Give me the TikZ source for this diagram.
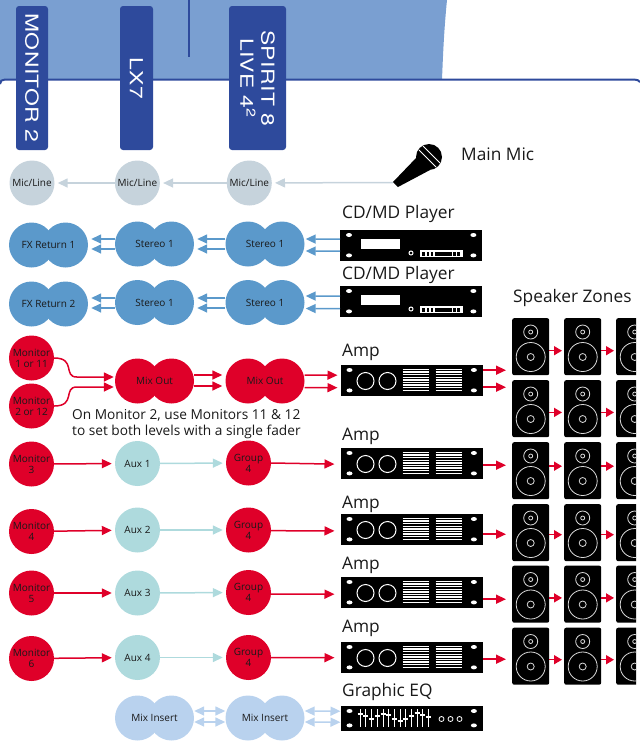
\documentclass[tikz,border=0pt]{standalone}
\usepackage{fontspec}
\setmainfont{Open Sans}
\newfontfamily\barfont[LetterSpace=2]{TeX Gyre Heros}
\usepackage{tikz}
\usetikzlibrary{arrows.meta,positioning}
\definecolor{deskblue}{RGB}{46,74,156}
\definecolor{bandblue}{RGB}{122,159,209}
\definecolor{micgrey}{RGB}{198,211,220}
\definecolor{stereoblue}{RGB}{91,153,203}
\definecolor{monred}{RGB}{223,0,41}
\definecolor{auxteal}{RGB}{174,218,221}
\definecolor{insertblue}{RGB}{185,210,238}

% one node with two overlapping lobes behind it
\newcommand{\twin}[4]{%
  \node[bub, fill=#3, xshift=-17pt] (#1l) at (#2) {};
  \node[bub, fill=#3, xshift=17pt]  (#1r) at (#2) {};
  \node[twinbox] (#1) at (#2) {#4};}
\newcommand{\holes}[1]{%
  \foreach \an/\sx/\sy in {north west/9/5, south west/9/-6, north east/-9/5, south east/-9/-6}
    \fill[white] ([shift={(\sx,\sy)}]#1.\an) ellipse (3 and 2);}
\newcommand{\cdunit}[2]{%
  \node[rack] (#1) at (#2) {};
  \holes{#1}
  \fill[white] ([shift={(21,9)}]#1.north west) rectangle ([shift={(60,19)}]#1.north west);
  \draw[white, line width=1pt] ([shift={(71,23)}]#1.north west) circle (2);
  \fill[white] ([shift={(80,20)}]#1.north west) rectangle ([shift={(123,27)}]#1.north west);
  \foreach \xa/\xb in {82/85, 86.5/89, 91/93, 95/112, 113/115.5, 117/120}
    \fill[black] ([shift={(\xa,21.5)}]#1.north west) rectangle ([shift={(\xb,25.5)}]#1.north west);}
\newcommand{\ampunit}[2]{%
  \node[rack] (#1) at (#2) {};
  \holes{#1}
  \foreach \cx in {25,47}
    \draw[white, line width=1pt] ([shift={(\cx,16)}]#1.north west) circle (8.5);
  \foreach \gx in {62,95} \foreach \gy in {4.5,7.1,...,27}
    \draw[white, line width=1.4pt] ([shift={(\gx,\gy)}]#1.north west) -- ([shift={(\gx+26,\gy)}]#1.north west);}
\newcommand{\speaker}[2]{%
  \node[spk] (#1) at (#2) {};
  \draw[cone] ([yshift=-14pt]#1.north) circle (7);
  \draw[cone] ([yshift=-14pt]#1.north) circle (2);
  \draw[cone] ([yshift=-39pt]#1.north) circle (14.5);
  \draw[cone] ([yshift=-39pt]#1.north) circle (3.5);}
\newcommand{\bartxt}[1]{\scalebox{1.27}[1]{\barfont #1}}

\begin{document}
\begin{tikzpicture}[
    x=1pt, y=-1pt,
    bub/.style     = {circle, minimum size=45pt, inner sep=0pt, align=center, text=black!90,
                      font=\fontsize{10}{11}\selectfont},
    twinbox/.style = {minimum width=79pt, minimum height=45pt, inner sep=0pt, align=center,
                      text=black!90, font=\fontsize{10}{11}\selectfont},
    bar/.style     = {fill=deskblue, rounded corners=3pt, rotate=-90, minimum width=144pt, inner sep=0pt,
                      text=white, align=center, font=\fontsize{18}{21}\selectfont},
    rack/.style    = {fill=black, minimum width=142pt, minimum height=31pt, inner sep=0pt, anchor=north west},
    spk/.style     = {fill=black, rounded corners=2pt, minimum width=37pt, minimum height=57pt,
                      inner sep=0pt, anchor=north west},
    cone/.style    = {white!85!black, line width=0.8pt},
    devlbl/.style  = {anchor=base west, inner sep=0pt, text=black!90, font=\fontsize{17.3}{19}\selectfont},
    arr/.style     = {-{Triangle[length=10pt,width=9pt]}, line width=1.5pt, shorten >=3pt},
    micarr/.style  = {arr, color=micgrey},
    bluearr/.style = {arr, color=stereoblue},
    redarr/.style  = {arr, color=monred},
    auxarr/.style  = {arr, color=auxteal},
    insarr/.style  = {{Triangle[length=10pt,width=9pt]}-{Triangle[length=10pt,width=9pt]},
                      line width=1.5pt, color=insertblue},
  ]
  \useasboundingbox (0,0) rectangle (640,756);

  % top band
  \fill[bandblue] (0,0) -- (447,0) .. controls (444,30) and (443,55) .. (442,79.5)
    -- (5,79.5) .. controls (2,79.5) and (0,81) .. (0,84) -- cycle;
  \draw[deskblue, line width=2pt] (0,84) .. controls (0,81) and (2,79.5) .. (5,79.5)
    -- (634,79.5) .. controls (637,79.5) and (639,80.5) .. (640,82);
  \draw[deskblue, line width=2pt] (189,0) -- (189,57);

  \node[bar, minimum height=32pt] (barmon) at (32,78)  {\bartxt{MONITOR 2}};
  \node[bar, minimum height=33pt] (barlx)  at (136.5,78) {\bartxt{LX7}};
  \node[bar, minimum height=57pt] (barsp)  at (257.5,78) {\bartxt{SPIRIT 8}\\\bartxt{LIVE 4\textsuperscript{2}}};

  % mic row
  \node[bub, fill=micgrey] (micl) at (32,183)  {Mic/Line};
  \node[bub, fill=micgrey, right=60pt of micl] (micm) {Mic/Line};
  \node[bub, fill=micgrey, right=66.5pt of micm] (micr) {Mic/Line};
  \coordinate (jack) at (393,182.5);
  \fill[black] (393,182) -- (398,187) -- (430,170) -- (417,157) -- cycle;
  \fill[black] (429,157) circle (13);
  \draw[white, line width=1pt] (419,150) -- (436,167);
  \draw[white, line width=1pt] (423,146) -- (440,163);
  \node[devlbl] (miclbl) at (461,160) {Main Mic};
  \draw[micarr] (jack) -- (micr);
  \draw[micarr] (micr) -- (micm);
  \draw[micarr] (micm) -- (micl);

  % speakers, third column runs off the page
  \begin{scope}
    \clip (0,0) rectangle (636,756);
    \foreach \rw/\ytop/\dy in {1/318/-4, 2/380/-3.7, 3/442/4.5, 4/504/-2, 5/565.5/-3.7, 6/627.5/-3.5} {
      \speaker{sp\rw a}{512,\ytop}
      \speaker{sp\rw b}{564,\ytop}
      \speaker{sp\rw c}{616,\ytop}
      \foreach \fr/\tt in {a/b, b/c}
        \draw[redarr, shorten >=2pt, -{Triangle[length=8pt,width=9pt]}]
          ([yshift=\dy pt]sp\rw\fr.east) -- ([yshift=\dy pt]sp\rw\tt.west);
    }
  \end{scope}
  \node[devlbl] (spklbl) at (513,302) {Speaker Zones};

  % devices
  \cdunit{cda}{340,230}
  \cdunit{cdb}{340,286}
  \ampunit{ampa}{340.5,365}
  \ampunit{ampb}{340.5,448}
  \ampunit{ampc}{340.5,514}
  \ampunit{ampd}{340.5,577}
  \ampunit{ampe}{340.5,642}
  \node[rack, minimum height=25pt] (eq) at (340.5,706) {};
  \holes{eq}
  \foreach \k [count=\i] in {8,10,13,10,8,9,13,15,13,10,7,9,11} {
    \draw[white, line width=1pt] ([shift={(14+5.7*\i,3)}]eq.north west) -- ([shift={(14+5.7*\i,21)}]eq.north west);
    \draw[white, line width=1.5pt] ([shift={(11.5+5.7*\i,\k)}]eq.north west) -- ([shift={(16.5+5.7*\i,\k)}]eq.north west);
  }
  \foreach \cx in {101,110,119}
    \draw[white, line width=0.8pt] ([shift={(\cx,13)}]eq.north west) circle (2.5);
  \foreach \nm/\yb/\tx in {cdalbl/218.5/CD\slash MD Player, cdblbl/279/CD\slash MD Player, ampalbl/356.5/Amp,
      ampblbl/440/Amp, ampclbl/508/Amp, ampdlbl/569/Amp, ampelbl/632/Amp, eqlbl/696.5/Graphic EQ}
    \node[devlbl] (\nm) at (342,\yb) {\tx};

  % stereo rows
  \twin{fxa}{48.5,245}{stereoblue}{FX Return 1}
  \twin{sta}{154.5,244}{stereoblue}{Stereo 1}
  \twin{stb}{265,244}{stereoblue}{Stereo 1}
  \twin{fxb}{48.5,304}{stereoblue}{FX Return 2}
  \twin{stc}{154.5,302.5}{stereoblue}{Stereo 1}
  \twin{std}{265,302.5}{stereoblue}{Stereo 1}
  \foreach \dy in {5,-5} \draw[bluearr] ([yshift=\dy pt]stb.west) -- ([yshift=\dy pt]sta.east);
  \foreach \dy in {4.5,-5.5} \draw[bluearr] ([yshift=\dy pt]std.west) -- ([yshift=\dy pt]stc.east);
  \foreach \dya/\dyb in {5/6,-5/-4} \draw[bluearr] ([yshift=\dya pt]sta.west) -- ([yshift=\dyb pt]fxa.east);
  \foreach \dya/\dyb in {4.5/6,-5.5/-4} \draw[bluearr] ([yshift=\dya pt]stc.west) -- ([yshift=\dyb pt]fxb.east);
  \foreach \dya/\dyb in {6.5/5,-5.5/-7} \draw[bluearr, shorten >=1pt] ([yshift=\dya pt]cda.west) -- ([yshift=\dyb pt]stb.east);
  \foreach \dya/\dyb in {5.5/6.5,-7/-6} \draw[bluearr, shorten >=1pt] ([yshift=\dya pt]cdb.west) -- ([yshift=\dyb pt]std.east);

  % mix out
  \node[bub, fill=monred] (mona) at (31.5,358) {Monitor\\1 or 11};
  \node[bub, fill=monred] (monb) at (31.5,406) {Monitor\\2 or 12};
  \twin{mxa}{154.5,381}{monred}{Mix Out}
  \twin{mxb}{265,381}{monred}{Mix Out}
  \coordinate[left=38pt of mxa, yshift=4pt] (benda);
  \coordinate[left=38pt of mxa, yshift=-6pt] (bendb);
  \draw[redarr, shorten >=1pt] (mona.east) .. controls +(22,0) and +(-14,0) .. (benda) -- ([yshift=4pt]mxa.west);
  \draw[redarr, shorten >=1pt] (monb.east) .. controls +(22,0) and +(-14,0) .. (bendb) -- ([yshift=-6pt]mxa.west);
  \foreach \dy in {6,-5} \draw[redarr] ([yshift=\dy pt]mxa.east) -- ([yshift=\dy pt]mxb.west);
  \foreach \dya/\dyb in {6/5.5,-6.5/-7} \draw[redarr] ([yshift=\dya pt]mxb.east) -- ([yshift=\dyb pt]ampa.west);
  \draw[redarr, shorten >=6pt] ([yshift=10.5pt]ampa.east) -- ([yshift=-23.5pt]sp1a.west);
  \draw[redarr, shorten >=6pt] ([yshift=-6.5pt]ampa.east) -- ([yshift=21.5pt]sp2a.west);
  \node[anchor=base west, inner sep=0pt, align=left, text=black!90, font=\fontsize{13.7}{16.5}\selectfont] (note) at (72,435.5)
    {On Monitor 2, use Monitors 11 \& 12\\to set both levels with a single fader};

  % monitor, aux and group rows
  \foreach \rw/\ymon/\yaux/\ygrp/\mn/\am/\dg/\da in {
      1/464/463.5/463/3/ampb/0/-0.5,
      2/531.5/530/530/4/ampc/-0.7/-1.2,
      3/593/593/592.5/5/ampd/-1.5/-1.5,
      4/658.5/657.5/657.5/6/ampe/0/0} {
    \node[bub, fill=monred] (mon\rw) at (31.5,\ymon) {Monitor\\\mn};
    \node[bub, fill=auxteal] (aux\rw) at (137.5,\yaux) {Aux \rw};
    \node[bub, fill=monred] (grp\rw) at (248.5,\ygrp) {Group\\4};
    \draw[redarr] (mon\rw) -- (aux\rw);
    \draw[auxarr] (aux\rw) -- (grp\rw);
    \draw[redarr, shorten >=6pt] ([yshift=\dg pt]grp\rw.east) -- ([yshift=\da pt]\am.west);
  }
  \draw[redarr, shorten >=6pt] ([yshift=-1.5pt]ampb.east) -- ([yshift=5.5pt]sp3a.west);
  \draw[redarr, shorten >=6pt] ([yshift=-4.5pt]ampc.east) -- ([yshift=-1.5pt]sp4a.west);
  \draw[redarr, shorten >=6pt] ([yshift=-6.5pt]ampd.east) -- ([yshift=-5pt]sp5a.west);
  \draw[redarr, shorten >=6pt] ([yshift=-1.5pt]ampe.east) -- ([yshift=-3pt]sp6a.west);

  % mix insert
  \twin{ina}{154.5,718}{insertblue}{Mix Insert}
  \twin{inb}{265,718}{insertblue}{Mix Insert}
  \foreach \dy in {7,-4} \draw[insarr] ([yshift=\dy pt]ina.east) -- ([yshift=\dy pt]inb.west);
  \draw[insarr] ([yshift=7pt]inb.east) -- ([yshift=7.5pt]eq.west);
  \draw[insarr] ([yshift=-4pt]inb.east) -- ([yshift=-3.5pt]eq.west);
\end{tikzpicture}
\end{document}
